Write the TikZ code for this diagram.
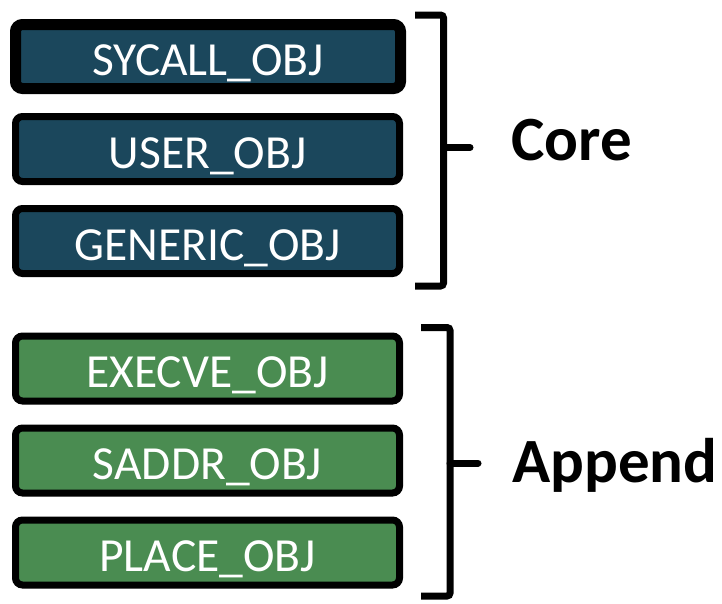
\documentclass[tikz,border=0pt]{standalone}
\usepackage{fontspec}
\setmainfont{Carlito}
\usetikzlibrary{shadows}
\definecolor{coreblue}{HTML}{1B475C}
\definecolor{appgreen}{HTML}{4A8C51}
\tikzset{
  objbox/.style={draw=black, line width=7pt, rounded corners=7pt,
    minimum width=384pt, minimum height=65pt, inner sep=0pt,
    text=white, font=\fontsize{47.5}{50}\selectfont,
    text height=38.5pt, text depth=0pt,
    drop shadow={shadow xshift=1pt, shadow yshift=-3pt, opacity=0.25, fill=black}},
  corebox/.style={objbox, fill=coreblue},
  appbox/.style={objbox, fill=appgreen},
  brace/.style={draw=black, line width=7pt, rounded corners=3pt},
  tick/.style={draw=black, line width=7pt, line cap=round},
  grouplabel/.style={anchor=base west, inner sep=0pt, font=\fontsize{63}{66}\selectfont\bfseries}
}
\begin{document}
\begin{tikzpicture}[x=1pt, y=-1pt]
\useasboundingbox (0,0) rectangle (722,603);
\node[corebox, line width=11pt, minimum width=385pt, minimum height=64pt] (sys) at (208,56.5) {SYCALL\_OBJ};
\node[corebox] (user) at (207.5,149) {USER\_OBJ};
\node[corebox] (gen) at (207.5,241) {GENERIC\_OBJ};
\node[appbox] (exec) at (207.5,368.5) {EXECVE\_OBJ};
\node[appbox] (saddr) at (207.5,460.5) {SADDR\_OBJ};
\node[appbox] (place) at (207.5,552.5) {PLACE\_OBJ};

\coordinate (ct) at (415,15);
\coordinate (cb) at (415,286);
\coordinate (cm) at (443.5,147.5);
\coordinate (cmt) at (470,147.5);
\draw[brace] (ct) -- (443.5,15) -- (443.5,286) -- (cb);
\draw[tick] (cm) -- (cmt);

\coordinate (at) at (421,327.5);
\coordinate (ab) at (421,596);
\coordinate (am) at (450,463);
\coordinate (amt) at (478,463);
\draw[brace] (at) -- (450,327.5) -- (450,596) -- (ab);
\draw[tick] (am) -- (amt);

\node[grouplabel] (core) at (511,160) {Core};
\node[grouplabel] (append) at (512,482) {Append};
\end{tikzpicture}
\end{document}
